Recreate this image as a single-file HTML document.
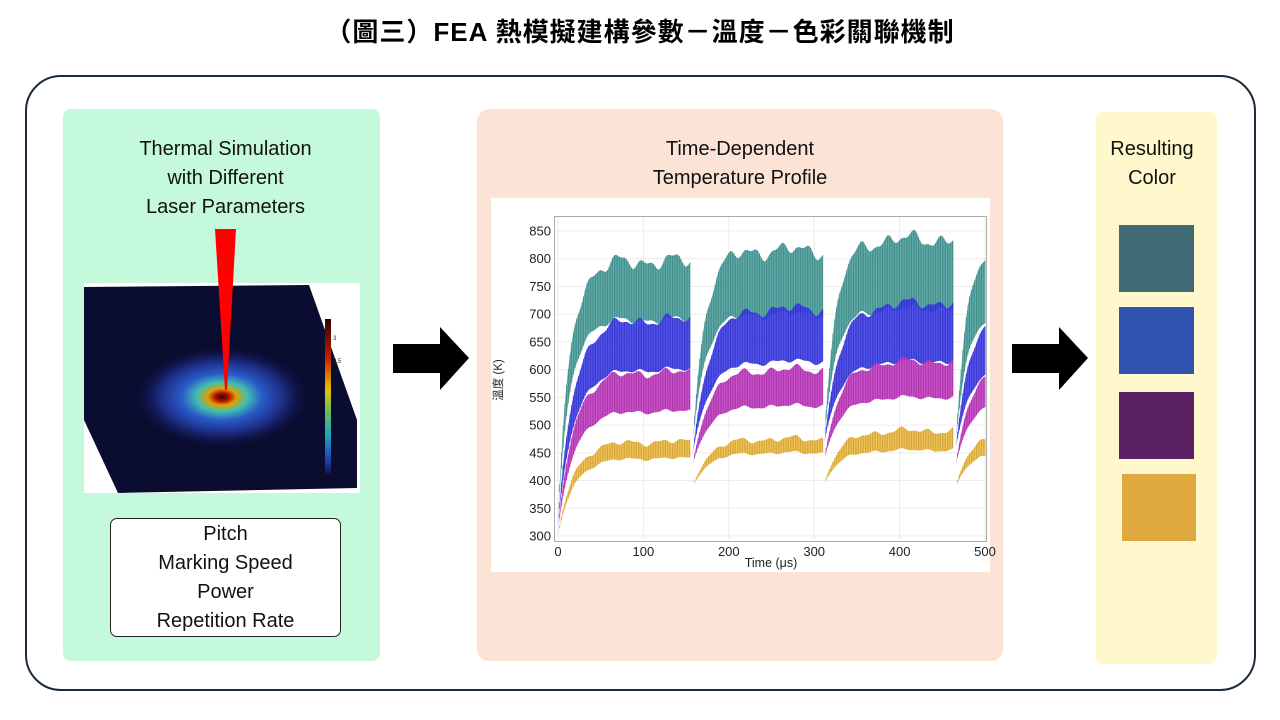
<!DOCTYPE html><html><head><meta charset="utf-8"><style>
body{margin:0;width:1280px;height:720px;background:#fff;position:relative;overflow:hidden;font-family:"Liberation Sans","Noto Sans CJK TC",sans-serif}
.a{position:absolute}
.t{text-align:center;font-size:20px;color:#111;line-height:29px}
</style></head><body>
<div class="a" style="left:0;top:12px;width:1280px;text-align:center;font-size:26px;font-weight:bold;letter-spacing:1px;font-family:'Liberation Sans','Noto Sans CJK TC',sans-serif">（圖三）FEA 熱模擬建構參數－溫度－色彩關聯機制</div>
<div class="a" style="left:25px;top:75px;width:1227px;height:612px;border:2px solid #1c2b3a;border-radius:36px"></div>
<div class="a" style="left:63px;top:109px;width:317px;height:552px;background:#c4fadb;border-radius:8px"></div>
<div class="a" style="left:477px;top:109px;width:526px;height:552px;background:#fbe3d6;border-radius:12px"></div>
<div class="a" style="left:1096px;top:112px;width:121px;height:552px;background:#fff8cc;border-radius:8px"></div>
<div class="a t" style="left:63px;top:135px;width:325px">Thermal Simulation<br>with Different<br>Laser Parameters</div>
<div class="a t" style="left:477px;top:135px;width:526px">Time-Dependent<br>Temperature Profile</div>
<div class="a t" style="left:1096px;top:135px;width:112px">Resulting<br>Color</div>
<div class="a t" style="left:110px;top:518px;width:229px;height:116px;border:1px solid #222;border-radius:7px;background:#fff;padding-top:1px">Pitch<br>Marking Speed<br>Power<br>Repetition Rate</div>
<div class="a" style="left:1119px;top:225px;width:75px;height:67px;background:#3f6a73"></div>
<div class="a" style="left:1119px;top:307px;width:75px;height:67px;background:#2f55b0"></div>
<div class="a" style="left:1119px;top:392px;width:75px;height:67px;background:#5a2263"></div>
<div class="a" style="left:1122px;top:474px;width:74px;height:67px;background:#e0a93f"></div>
<svg class="a" style="left:0;top:0" width="1280" height="720">
<defs><radialGradient id="hg" cx="0.5" cy="0.5" r="0.5">
<stop offset="0" stop-color="#3a0000"/><stop offset="0.08" stop-color="#b01000"/><stop offset="0.16" stop-color="#e0a000"/><stop offset="0.28" stop-color="#40c0b0"/><stop offset="0.45" stop-color="#2a5ac8"/><stop offset="0.7" stop-color="#1c2a80"/><stop offset="1" stop-color="#0a0c30" stop-opacity="0"/></radialGradient></defs>
<polygon points="393,344 440,344 440,327 469,358 440,390 440,373 393,373" fill="#000"/>
<polygon points="1012,344 1059,344 1059,327 1088,358 1059,390 1059,373 1012,373" fill="#000"/>
<rect x="84" y="283" width="276" height="210" fill="#fff"/>
<polygon points="84,287 309,285 357,420 357,488 118,493 84,420" fill="#0a0c30"/>
<ellipse cx="222" cy="397" rx="90" ry="52" fill="url(#hg)"/>
<defs><linearGradient id="cb" x1="0" y1="0" x2="0" y2="1"><stop offset="0" stop-color="#300000"/><stop offset=".25" stop-color="#c02000"/><stop offset=".45" stop-color="#e8c000"/><stop offset=".6" stop-color="#60c060"/><stop offset=".75" stop-color="#20a0c0"/><stop offset=".9" stop-color="#2040b0"/><stop offset="1" stop-color="#101040"/></linearGradient></defs>
<rect x="325" y="319" width="6" height="156" fill="url(#cb)"/>
<text x="333" y="340" font-size="6" fill="#333">3</text><text x="333" y="363" font-size="6" fill="#333">2.5</text>
<polygon points="215,229 236,229 227,390 225,390" fill="#ff0000"/>
<rect x="491" y="198" width="499" height="374" fill="#fff"/>
<g id="grid" stroke="#ececec" stroke-width="1"></g>
<g id="series"></g>
<rect x="554.5" y="216.5" width="432" height="325" fill="none" stroke="#aaa"/>
<g id="ax" font-size="13" fill="#222"></g>
<text x="771" y="567" font-size="12.5" text-anchor="middle" fill="#222">Time (μs)</text>
<text transform="translate(502,380) rotate(-90)" font-size="11.5" text-anchor="middle" fill="#222">溫度 (K)</text>
</svg>
<script>
var X=t=>558+t*0.854, Y=v=>536-(v-300)*(305/550);
var g=document.getElementById('grid'),ax=document.getElementById('ax'),h='',a='';
for(var v=300;v<=850;v+=50){h+=`<line x1="555" x2="986" y1="${Y(v)}" y2="${Y(v)}"/>`;a+=`<text x="551" y="${Y(v)+4.5}" text-anchor="end">${v}</text>`}
for(var t=0;t<=500;t+=100){h+=`<line y1="217" y2="541" x1="${X(t)}" x2="${X(t)}"/>`;a+=`<text x="${X(t)}" y="556" text-anchor="middle">${t}</text>`}
g.innerHTML=h;ax.innerHTML=a;
var segs=[[0,155],[158,310],[312,463],[466,500]];
var S=[
["#4aa3a0",[330,470,480,470],[795,815,835,840],[690,700,710,710]],
["#3b3cf0",[320,450,470,460],[690,710,720,720],[600,615,615,615]],
["#c83ac8",[310,430,440,430],[595,600,615,615],[525,535,550,550]],
["#f7c040",[300,390,395,390],[470,475,490,490],[440,450,455,455]]];
var amp=[14,10,8,6];
var out='';
S.forEach((s,i)=>{segs.forEach((sg,k)=>{
 var up=[],lo=[],str='';
 for(var t=sg[0];t<=sg[1];t+=1){var d=t-sg[0],e=1-Math.exp(-d/(i==0?14:18));
  var w=amp[i]*(0.6*Math.sin(t*0.2+i)+0.5*Math.sin(t*0.093+1.3)+0.3*Math.sin(t*0.41));
  var u=s[1][k]+(s[2][k]-s[1][k])*e+w*e, l=s[1][k]+(s[3][k]-s[1][k])*e+w*0.5*e;
  up.push(X(t)+','+Y(u));lo.unshift(X(t)+','+Y(l));
  if(t%2==0)str+=`M${X(t)},${Y(u)}V${Y(l)}`;}
 out+=`<polygon points="${up.join(' ')} ${lo.join(' ')}" fill="${s[0]}" opacity="0.85"/>`;
 out+=`<path d="${str}" stroke="${s[0]}" stroke-width="0.8" opacity="0.9" filter="brightness(0.8)"/>`;
})});
document.getElementById('series').innerHTML=out;
</script>
</body></html>
